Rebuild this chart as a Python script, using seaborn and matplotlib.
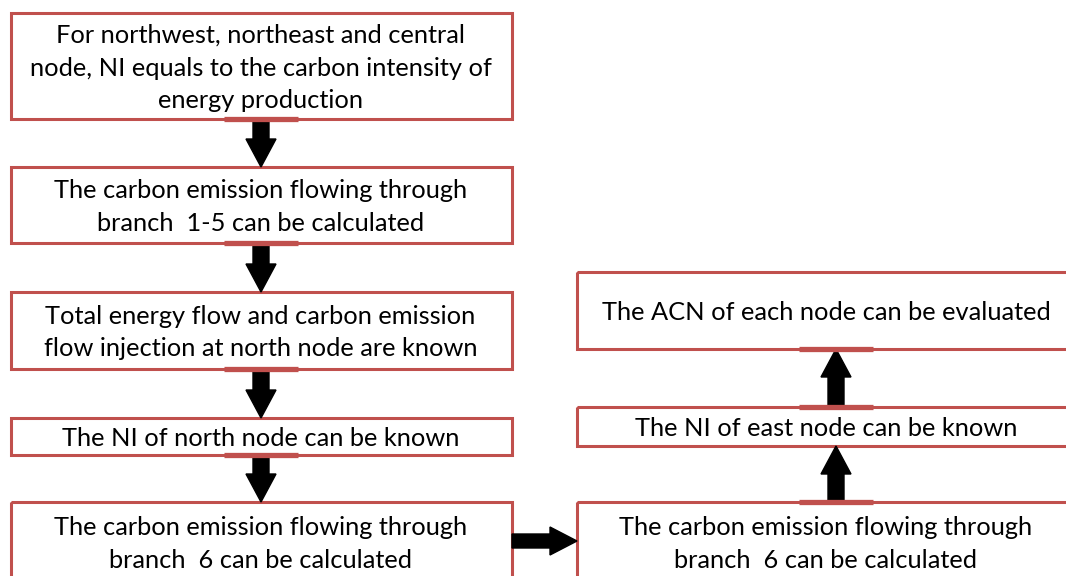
import matplotlib.pyplot as plt
import seaborn as sns
from matplotlib.patches import Rectangle, FancyArrow

# Flowchart content
box_texts = [
    "For northwest, northeast and central\nnode, NI equals to the carbon intensity of\nenergy production",
    "The carbon emission flowing through\nbranch  1-5 can be calculated",
    "Total energy flow and carbon emission\nflow injection at north node are known",
    "The NI of north node can be known",
    "The carbon emission flowing through\nbranch  6 can be calculated",
    "The ACN of each node can be evaluated",
    "The NI of east node can be known",
    "The carbon emission flowing through\nbranch  6 can be calculated",
]

# layout in pixels: (left, top, width, height)
box_layout = [
    (11, 13, 501, 106),
    (11, 167, 501, 76),
    (11, 292, 501, 77),
    (11, 418, 501, 37),
    (11, 502, 501, 80),
    (577, 272, 500, 77),
    (577, 407, 500, 39),
    (577, 502, 500, 80),
]

# arrows: (from box, to box)
links = [(0, 1), (1, 2), (2, 3), (3, 4), (4, 7), (7, 6), (6, 5)]

sns.set_style("white")
plt.rcParams["font.family"] = ["Lato", "DejaVu Sans"]

fig = plt.figure(figsize=(10.66, 5.76), dpi=100)
ax = fig.add_axes([0, 0, 1, 1])
ax.set_xlim(0, 1066)
ax.set_ylim(576, 0)
ax.axis("off")

red = "#C0504D"

for (x, y, w, h), txt in zip(box_layout, box_texts):
    ax.add_patch(Rectangle((x, y), w, h, fill=False, edgecolor=red, linewidth=2.2))
    ax.text(x + w / 2 - 1, y + h / 2 + 2, txt, ha="center", va="center",
            fontsize=18.3, color="black", linespacing=1.52)


def red_seg(cx, y):
    ax.plot([cx - 37, cx + 37], [y, y], color=red, lw=3.8, solid_capstyle="butt")


for a, b in links:
    xa, ya, wa, ha_ = box_layout[a]
    xb, yb, wb, hb = box_layout[b]
    if xa == xb:
        # vertical link
        cx = 261 if xa < 300 else 836
        if yb > ya:
            start, end = ya + ha_, yb
        else:
            start, end = ya, yb + hb
        red_seg(cx, start)
        if (a, b) == (6, 5):
            red_seg(cx, end)
        ax.add_patch(FancyArrow(cx, start, 0, end - start, width=16,
                                head_width=30, head_length=28,
                                length_includes_head=True, color="black"))
    else:
        cy = 541
        ax.add_patch(FancyArrow(xa + wa, cy, xb - (xa + wa), 0, width=14,
                                head_width=28, head_length=27,
                                length_includes_head=True, color="black"))

fig.savefig("out.png", dpi=100)
